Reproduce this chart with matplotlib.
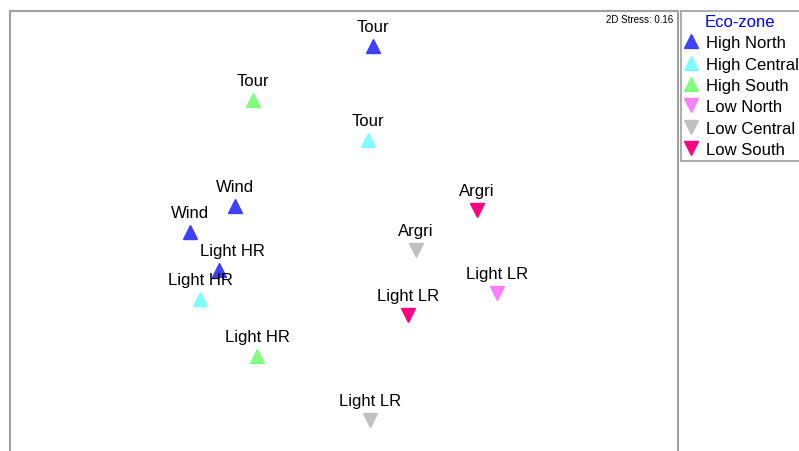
import matplotlib.pyplot as plt
from matplotlib.lines import Line2D

plt.rcParams['font.family'] = ['Liberation Sans', 'DejaVu Sans']

# NMDS ordination scores
labels = ["Tour", "Tour", "Tour", "Wind", "Wind", "Light HR", "Light HR", "Light HR",
          "Argri", "Argri", "Light LR", "Light LR", "Light LR"]
zones = ["High North", "High South", "High Central", "High North", "High North",
         "High North", "High Central", "High South",
         "Low South", "Low Central", "Low North", "Low South", "Low Central"]
nmds1 = [0.145, -0.455, 0.12, -0.545, -0.77, -0.625, -0.72, -0.435,
         0.665, 0.36, 0.765, 0.32, 0.13]
nmds2 = [0.965, 0.695, 0.495, 0.165, 0.035, -0.155, -0.30, -0.585,
         0.145, -0.055, -0.27, -0.38, -0.905]
stress = 0.16

zone_order = ["High North", "High Central", "High South", "Low North", "Low Central", "Low South"]
zone_colors = {"High North": "#4040ff", "High Central": "#80ffff", "High South": "#80ff80",
               "Low North": "#ff80ff", "Low Central": "#c0c0c0", "Low South": "#ff0080"}
zone_markers = {"High North": "^", "High Central": "^", "High South": "^",
                "Low North": "v", "Low Central": "v", "Low South": "v"}

fig = plt.figure(figsize=(7.99, 4.52), dpi=100)
ax = fig.add_axes([10 / 799, -10 / 452, 668 / 799, 450 / 452])

for x, y, lab, z in zip(nmds1, nmds2, labels, zones):
    ax.plot(x, y, marker=zone_markers[z], color=zone_colors[z], ms=10, ls='none')
    dx = 10 if (lab == "Light HR" and z == "High North") else 0
    ax.annotate(lab, (x, y), xytext=(dx, 14), textcoords='offset points',
                ha='center', va='center', fontsize=12)

ax.text(0.993, 0.982, f"2D Stress: {stress}", transform=ax.transAxes,
        ha='right', va='center', fontsize=7)

ax.set_xlim(-1.67, 1.67)
ax.set_ylim(-1.11, 1.14)
ax.set_xticks([])
ax.set_yticks([])
for sp in ax.spines.values():
    sp.set_color('#a0a0a0')
    sp.set_linewidth(1.5)

# legend box on the right
lax = fig.add_axes([681 / 799, 1 - 162 / 452, 130 / 799, 150 / 452])
lax.set_xticks([])
lax.set_yticks([])
for sp in lax.spines.values():
    sp.set_color('#a0a0a0')
    sp.set_linewidth(1.2)
handles = [Line2D([], [], marker=zone_markers[z], color=zone_colors[z], ls='none', ms=10)
           for z in zone_order]
leg = lax.legend(handles, zone_order, title="Eco-zone", loc='upper left',
                 bbox_to_anchor=(-0.055, 1.025), frameon=False, fontsize=12,
                 title_fontsize=12, handletextpad=0.3, labelspacing=0.38,
                 handlelength=1.2, borderaxespad=0)
leg.get_title().set_color('#0000ff')

fig.savefig("out.png", dpi=100)
